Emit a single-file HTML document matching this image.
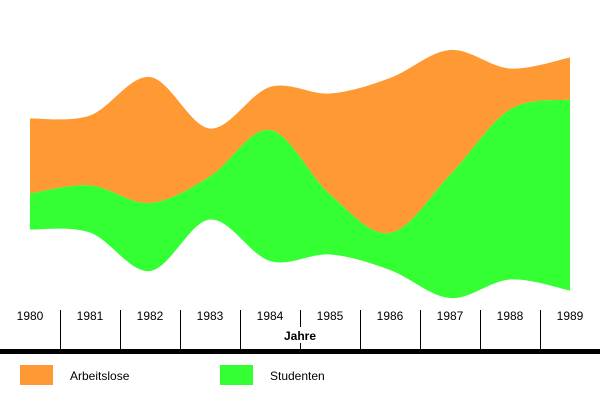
<!DOCTYPE html>
<html><head><meta charset="utf-8"><style>
body{margin:0;background:#fff;width:600px;height:400px;overflow:hidden;font-family:"Liberation Sans",sans-serif}
</style></head><body>
<svg width="600" height="400" xmlns="http://www.w3.org/2000/svg">
<g id="layers"></g>
<g id="axis" font-size="12" fill="#000"></g>
<rect x="0" y="349" width="600" height="5" fill="#000"/>
<text x="300" y="340" text-anchor="middle" font-size="12" font-weight="bold">Jahre</text>
<g>
<rect x="20" y="365" width="33" height="20" fill="#FF9933"/>
<text x="70" y="380" font-size="12">Arbeitslose</text>
<rect x="220" y="365" width="33" height="20" fill="#33FF33"/>
<text x="270" y="380" font-size="12">Studenten</text>
</g>
</svg>
<script>
const years = ["1980","1981","1982","1983","1984","1985","1986","1987","1988","1989"];
const arbeitslose = [75,70,126,48,43,101,155,125,41,42];
const studenten = [36,47,68,43,131,60,37,123,170,191];
const NS="http://www.w3.org/2000/svg";
const x0=30, step=60, center=174, k=1;
const xs=i=>x0+i*step;
const tops=[],mids=[],bots=[];
years.forEach((_,i)=>{const tot=(arbeitslose[i]+studenten[i])*k;const t=center-tot/2;tops.push(t);mids.push(t+arbeitslose[i]*k);bots.push(t+tot);});
function curve(ys,rev){
  let pts=ys.map((y,i)=>[xs(i),y]); if(rev) pts=pts.reverse();
  let d="";
  for(let i=0;i<pts.length-1;i++){
    const p0=pts[Math.max(i-1,0)],p1=pts[i],p2=pts[i+1],p3=pts[Math.min(i+2,pts.length-1)];
    const c1=[p1[0]+(p2[0]-p0[0])/6,p1[1]+(p2[1]-p0[1])/6];
    const c2=[p2[0]-(p3[0]-p1[0])/6,p2[1]-(p3[1]-p1[1])/6];
    d+=` C${c1[0]},${c1[1]} ${c2[0]},${c2[1]} ${p2[0]},${p2[1]}`;
  }
  return {start:pts[0],d};
}
function area(topY,botY,color,name){
  const a=curve(topY,false),b=curve(botY,true);
  const p=document.createElementNS(NS,"path");
  p.setAttribute("d",`M${a.start[0]},${a.start[1]}${a.d} L${b.start[0]},${b.start[1]}${b.d} Z`);
  p.setAttribute("fill",color);
  
  
  document.getElementById("layers").appendChild(p);
}
area(tops,mids,"#FF9933","arbeitslose-layer");
area(mids,bots,"#33FF33","studenten-layer");
const ax=document.getElementById("axis");
years.forEach((y,i)=>{
  const t=document.createElementNS(NS,"text");
  t.setAttribute("x",xs(i));t.setAttribute("y",320);t.setAttribute("text-anchor","middle");
  t.textContent=y;
  
  
  ax.appendChild(t);
  if(i>0){
    const xx=xs(i)-step/2+0.5;
    const segs = i===5 ? [[310,327],[343,350]] : [[310,350]];
    segs.forEach(s=>{
      const l=document.createElementNS(NS,"line");
      l.setAttribute("x1",xx);l.setAttribute("x2",xx);l.setAttribute("y1",s[0]);l.setAttribute("y2",s[1]);
      l.setAttribute("stroke","#000");
      
      
      ax.appendChild(l);
    });
  }
});
</script>
</body></html>
